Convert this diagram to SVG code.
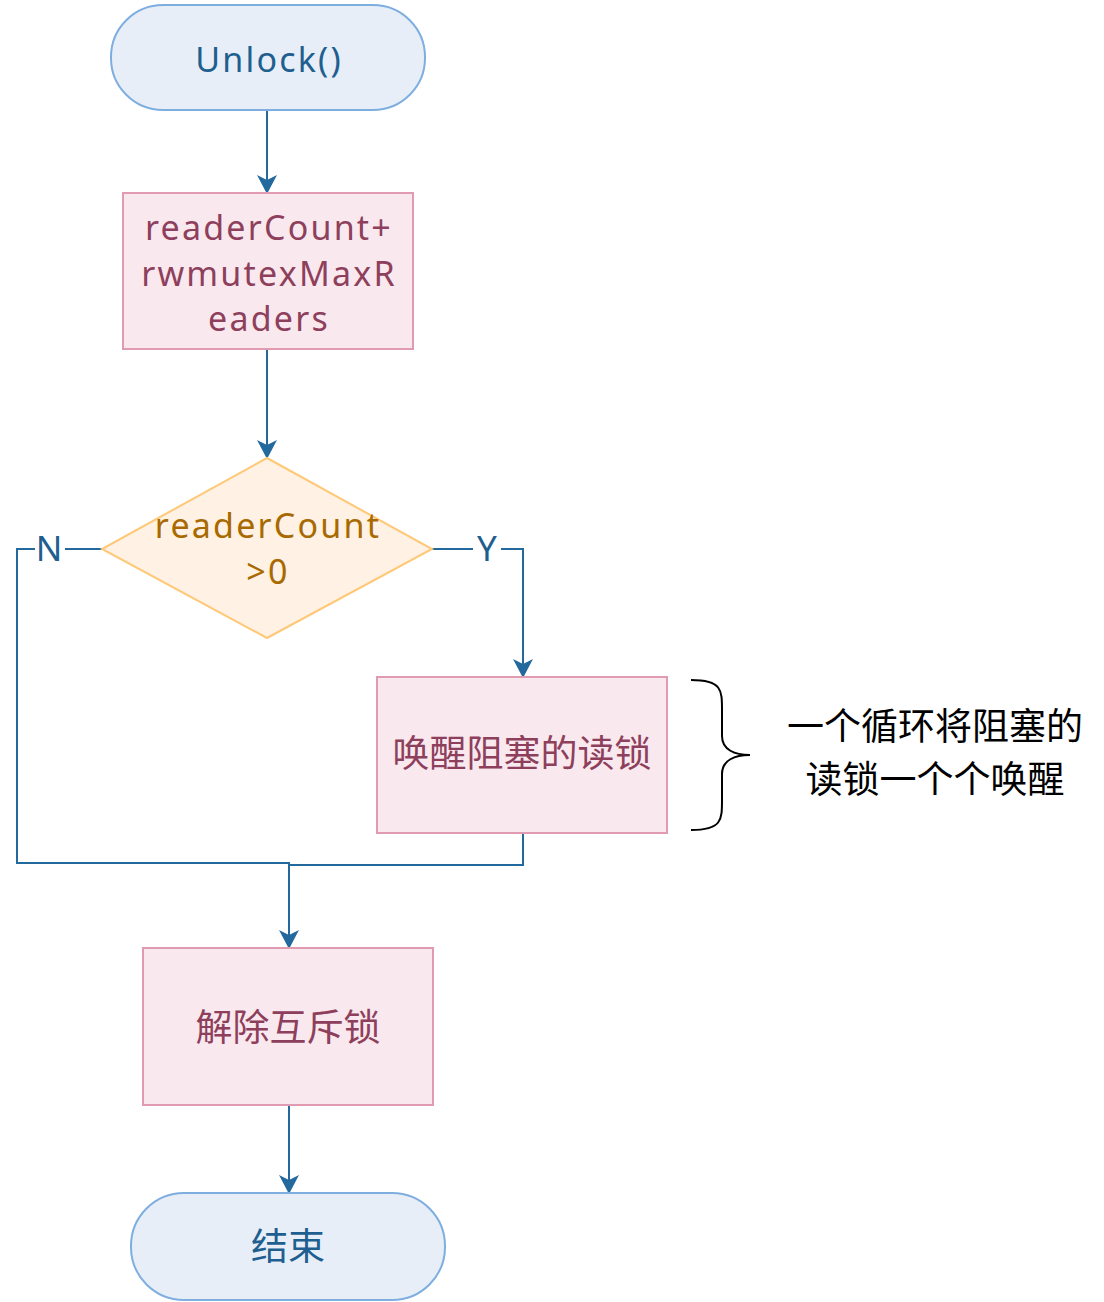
<svg xmlns="http://www.w3.org/2000/svg" width="1104" height="1302" viewBox="0 0 1104 1302">
<defs>
<style>
.term{fill:#e7eef8;stroke:#7eaee0;stroke-width:2}
.proc{fill:#f9e9ef;stroke:#e09bb0;stroke-width:2}
.dec{fill:#fff1e3;stroke:#ffc877;stroke-width:2}
.edge{fill:none;stroke:#23699e;stroke-width:2}
text{font-family:"Noto Sans","Noto Sans CJK SC",sans-serif;font-size:37px;text-anchor:middle}
.lat{font-size:34px;letter-spacing:2.2px}
.tb{fill:#1f5f8f}
.tp{fill:#8e3f5c}
.td{fill:#a86a00}
.lab{fill:#1f5f8f;font-size:35px}
.note{fill:#000000}
</style>
<marker id="arr" markerUnits="userSpaceOnUse" markerWidth="20" markerHeight="22" viewBox="0 0 20 22" refX="5" refY="11" orient="auto">
<path d="M0,1 L19,11 L0,21 L5,11 Z" fill="#23699e"/>
</marker>
</defs>
<g id="connectors">
<path class="edge" d="M267,110 V180" marker-end="url(#arr)"/>
<path class="edge" d="M267,349 V445" marker-end="url(#arr)"/>
<path class="edge" d="M432,549 H523 V664" marker-end="url(#arr)"/>
<path class="edge" d="M102,549 H17 V863 H289 V935" marker-end="url(#arr)"/>
<path class="edge" d="M523,833 V865 H289"/>
<path class="edge" d="M289,1105 V1180" marker-end="url(#arr)"/>
<rect x="35" y="530" width="30" height="38" fill="#ffffff"/>
<rect x="473" y="530" width="28" height="38" fill="#ffffff"/>
<text class="lab" x="49" y="561">N</text>
<text class="lab" x="487" y="561">Y</text>
</g>
<g id="start">
<rect class="term" x="111" y="5" width="314" height="105" rx="52" ry="52"/>
<text class="tb lat" x="269" y="72">Unlock()</text>
</g>
<g id="add">
<rect class="proc" x="123" y="193" width="290" height="156"/>
<text class="tp lat" x="269" y="240">readerCount+</text>
<text class="tp lat" x="269" y="286">rwmutexMaxR</text>
<text class="tp lat" x="269" y="331">eaders</text>
</g>
<g id="decision">
<polygon class="dec" points="267,458 432,549 267,638 102,549"/>
<text class="td lat" x="268" y="538">readerCount</text>
<text class="td lat" x="268" y="584">&gt;0</text>
</g>
<g id="wake">
<rect class="proc" x="377" y="677" width="290" height="156"/>
<text class="tp" x="522" y="767">唤醒阻塞的读锁</text>
</g>
<g id="unlockmutex">
<rect class="proc" x="143" y="948" width="290" height="157"/>
<text class="tp" x="288" y="1041">解除互斥锁</text>
</g>
<g id="end">
<rect class="term" x="131" y="1193" width="314" height="107" rx="53" ry="53"/>
<text class="tb" x="288" y="1260">结束</text>
</g>
<g id="note">
<path d="M691,680 C722,680 722,690 722,710 V736 C722,750 735,755 750,755 C735,755 722,760 722,774 V800 C722,820 722,830 691,830" fill="none" stroke="#000000" stroke-width="2"/>
<text class="note" x="935" y="740">一个循环将阻塞的</text>
<text class="note" x="935" y="793">读锁一个个唤醒</text>
</g>
</svg>
